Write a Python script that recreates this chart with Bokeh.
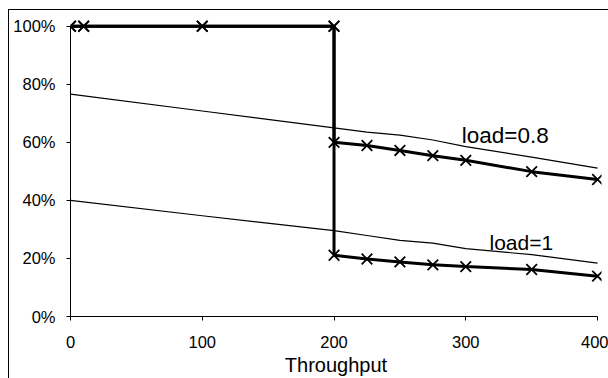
from bokeh.plotting import figure
from bokeh.models import (Range1d, FixedTicker, PrintfTickFormatter, Label)
from bokeh.embed import file_html
from bokeh.resources import INLINE

# --- data (percent) ---
thr_08 = [0, 10, 100, 200, 200, 225, 250, 275, 300, 350, 400]
meas_08 = [100, 100, 100, 100, 60.0, 58.9, 57.2, 55.4, 53.8, 49.9, 47.2]
thr_1 = [0, 10, 100, 200, 200, 225, 250, 275, 300, 350, 400]
meas_1 = [100, 100, 100, 100, 21.1, 19.8, 18.8, 17.8, 17.2, 16.2, 13.9]

model_x = [0, 100, 200, 225, 250, 275, 300, 350, 400]
model_08 = [76.6, 70.8, 65.0, 63.5, 62.5, 60.8, 58.5, 54.9, 51.1]
model_1 = [40.0, 34.7, 29.6, 27.9, 26.2, 25.3, 23.4, 21.3, 18.4]

x_ticks = [0, 100, 200, 300, 400]
y_ticks = [0, 20, 40, 60, 80, 100]
x_title = "Throughput"
labels = ["load=0.8", "load=1"]

FONT = "Liberation Sans"

# ranges padded slightly (top/right) so edge markers are not cut; axes bounded to the data span
p = figure(width=608, height=378, output_backend="svg", toolbar_location=None,
           x_range=Range1d(0, 403), y_range=Range1d(0, 103),
           min_border_left=70, min_border_right=7, min_border_top=17, min_border_bottom=61)
p.outline_line_color = None
p.background_fill_color = "white"
p.border_fill_color = None
# outer chart-area border (left and top edges; right/bottom lie beyond the window)
p.styles = {
    "background": "linear-gradient(#000, #000) 8px 9px / 1px 100% no-repeat, "
                  "linear-gradient(#000, #000) 8px 9px / 100% 1px no-repeat, #fff",
}
p.grid.visible = False

for ax in (p.xaxis[0], p.yaxis[0]):
    ax.axis_line_color = "black"
    ax.axis_line_width = 1
    ax.major_tick_line_color = "black"
    ax.major_tick_in = 0
    ax.major_tick_out = 4
    ax.minor_tick_line_color = None
    ax.major_label_text_font = FONT
    ax.major_label_text_font_size = "16.5px"
    ax.major_label_text_color = "black"

p.xaxis[0].bounds = (0, 400)
p.yaxis[0].bounds = (0, 100)
p.xaxis[0].ticker = FixedTicker(ticks=x_ticks)
p.yaxis[0].ticker = FixedTicker(ticks=y_ticks)
p.yaxis[0].formatter = PrintfTickFormatter(format="%d%%")
p.xaxis[0].major_label_standoff = 15
p.yaxis[0].major_label_standoff = 11
p.xaxis[0].axis_label = x_title
p.xaxis[0].axis_label_text_font = FONT
p.xaxis[0].axis_label_text_font_size = "20px"
p.xaxis[0].axis_label_text_font_style = "normal"
p.xaxis[0].axis_label_text_color = "black"
p.xaxis[0].axis_label_standoff = 3

# model lines (thin)
p.line(model_x, model_08, line_color="black", line_width=1.2)
p.line(model_x, model_1, line_color="black", line_width=1.2)

# measured (thick with x markers)
p.line(thr_1, meas_1, line_color="black", line_width=3)
p.line(thr_08, meas_08, line_color="black", line_width=3)
p.scatter(thr_1, meas_1, marker="x", size=15, line_color="black", line_width=1.8)
p.scatter(thr_08, meas_08, marker="x", size=15, line_color="black", line_width=1.8)

p.add_layout(Label(x=297, y=62.2, text=labels[0], text_font=FONT, text_font_size="22.5px",
                   text_color="black", text_baseline="alphabetic", text_align="left"))
p.add_layout(Label(x=318, y=25.4, text=labels[1], text_font=FONT, text_font_size="21px",
                   text_color="black", text_baseline="alphabetic", text_align="left"))

open("out.html", "w").write(file_html(p, INLINE))
